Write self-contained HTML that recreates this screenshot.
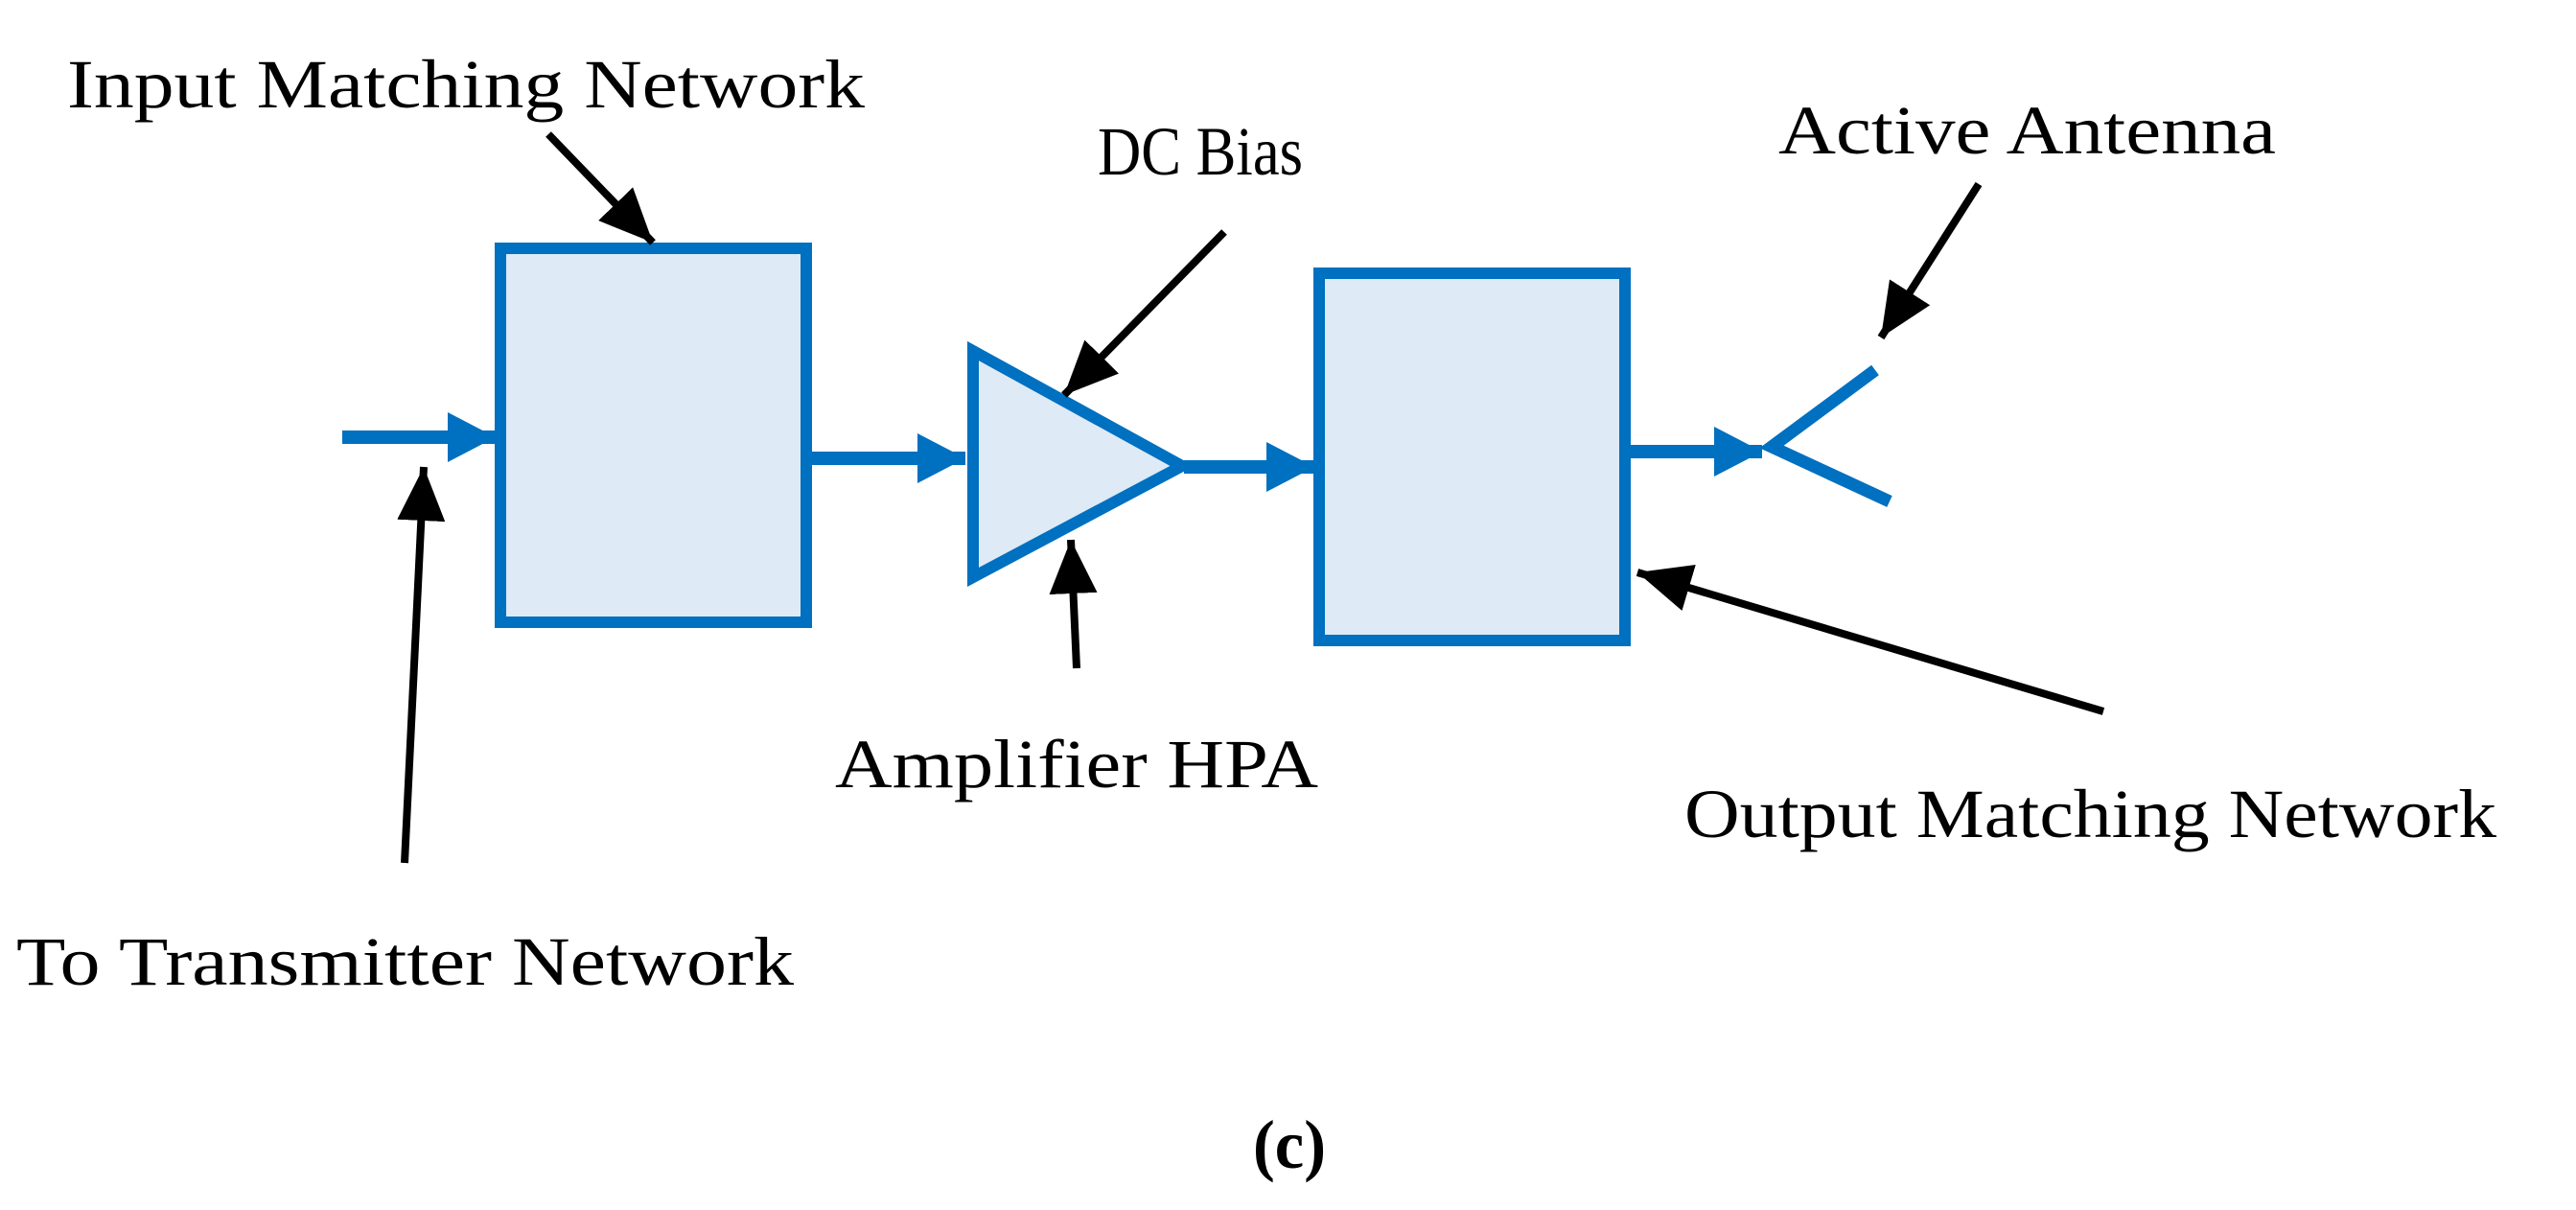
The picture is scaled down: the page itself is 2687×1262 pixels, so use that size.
<!DOCTYPE html>
<html><head><meta charset="utf-8"><style>
html,body{margin:0;padding:0;background:#fff;}
svg{display:block;}
text{font-family:"Liberation Serif",serif;font-size:72px;fill:#000;}
</style></head><body>
<svg width="2687" height="1262" viewBox="0 0 2687 1262" xmlns="http://www.w3.org/2000/svg">
<defs>
<marker id="bk" markerUnits="userSpaceOnUse" markerWidth="70" markerHeight="70" refX="56" refY="25" orient="auto">
<path d="M0,0 L56,25 L0,50 z" fill="#000"/>
</marker>
<marker id="bl" markerUnits="userSpaceOnUse" markerWidth="70" markerHeight="70" refX="50" refY="26" orient="auto">
<path d="M0,0 L50,26 L0,52 z" fill="#0070C0"/>
</marker>
</defs>
<rect x="522" y="259" width="319" height="390" fill="#DEEAF6" stroke="#0070C0" stroke-width="12"/>
<rect x="1376" y="285" width="319" height="383" fill="#DEEAF6" stroke="#0070C0" stroke-width="12"/>
<polygon points="1015,366 1015,602 1233,486" fill="#DEEAF6" stroke="#0070C0" stroke-width="12"/>
<line x1="357" y1="456" x2="517" y2="456" stroke="#0070C0" stroke-width="14" marker-end="url(#bl)"/>
<line x1="847" y1="478" x2="1007" y2="478" stroke="#0070C0" stroke-width="14" marker-end="url(#bl)"/>
<line x1="1235" y1="487" x2="1371" y2="487" stroke="#0070C0" stroke-width="14" marker-end="url(#bl)"/>
<line x1="1701" y1="471" x2="1838" y2="471" stroke="#0070C0" stroke-width="14" marker-end="url(#bl)"/>
<polyline points="1956,386 1848,466 1971,523" fill="none" stroke="#0070C0" stroke-width="13"/>
<g stroke="#000" stroke-width="8">
<line x1="572" y1="140" x2="681" y2="253" marker-end="url(#bk)"/>
<line x1="422" y1="900" x2="442" y2="487" marker-end="url(#bk)"/>
<line x1="1277" y1="242" x2="1110" y2="412" marker-end="url(#bk)"/>
<line x1="1123" y1="697" x2="1117" y2="563" marker-end="url(#bk)"/>
<line x1="2064" y1="192" x2="1962" y2="352" marker-end="url(#bk)"/>
<line x1="2194" y1="742" x2="1708" y2="597" marker-end="url(#bk)"/>
</g>
<text x="70" y="112" textLength="832" lengthAdjust="spacingAndGlyphs">Input Matching Network</text>
<text x="1145" y="182" textLength="214" lengthAdjust="spacingAndGlyphs" font-size="76">DC Bias</text>
<text x="1855" y="160" textLength="519" lengthAdjust="spacingAndGlyphs">Active Antenna</text>
<text x="871" y="821" textLength="504" lengthAdjust="spacingAndGlyphs">Amplifier HPA</text>
<text x="1757" y="873" textLength="847" lengthAdjust="spacingAndGlyphs">Output Matching Network</text>
<text x="17" y="1027" textLength="811" lengthAdjust="spacingAndGlyphs">To Transmitter Network</text>
<text x="1307" y="1218" font-weight="bold" font-size="62" textLength="76" lengthAdjust="spacingAndGlyphs">(c)</text>
</svg>
</body></html>
